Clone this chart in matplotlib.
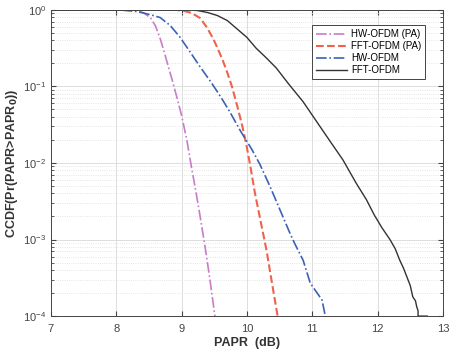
import numpy as np
import matplotlib.pyplot as plt

plt.rcParams['font.family'] = ['Liberation Sans', 'DejaVu Sans']

# curves (x in dB, y as log10 of CCDF)
hw_pa_x = [7, 8.2, 8.32, 8.42, 8.52, 8.6, 8.67, 8.73, 8.79, 8.86, 8.93, 9.0, 9.08, 9.15, 9.22, 9.28, 9.36, 9.43, 9.47, 9.51]
hw_pa_y = [0, 0, -0.01, -0.04, -0.1, -0.21, -0.37, -0.54, -0.72, -0.93, -1.15, -1.38, -1.7, -2.05, -2.38, -2.68, -3.1, -3.5, -3.75, -4.0]

fft_pa_x = [7, 8.9, 9.02, 9.15, 9.28, 9.38, 9.48, 9.56, 9.63, 9.7, 9.77, 9.85, 9.93, 10.0, 10.06, 10.12, 10.2, 10.3, 10.38, 10.43, 10.47]
fft_pa_y = [0, 0, -0.01, -0.04, -0.105, -0.22, -0.37, -0.52, -0.66, -0.82, -1.0, -1.25, -1.52, -1.8, -2.08, -2.38, -2.72, -3.14, -3.55, -3.8, -4.0]

hw_x = [7, 8.05, 8.16, 8.3, 8.41, 8.55, 8.67, 8.82, 8.97, 9.13, 9.28, 9.43, 9.54, 9.63, 9.75, 9.9, 10.08, 10.2, 10.35, 10.45, 10.55, 10.65, 10.73, 10.86, 10.97, 11.06, 11.15, 11.2]
hw_y = [0, 0, -0.01, -0.02, -0.04, -0.07, -0.1, -0.2, -0.35, -0.55, -0.74, -0.92, -1.06, -1.18, -1.35, -1.58, -1.83, -2.02, -2.3, -2.5, -2.7, -2.9, -3.05, -3.27, -3.57, -3.68, -3.79, -4.0]

fft_x = [7, 9.1, 9.25, 9.4, 9.55, 9.7, 9.83, 10.0, 10.14, 10.3, 10.45, 10.65, 10.86, 11.06, 11.26, 11.47, 11.67, 11.83, 11.95, 12.07, 12.19, 12.27, 12.34, 12.4, 12.45, 12.5, 12.54, 12.58, 12.6, 12.62, 12.62, 12.76]
fft_y = [0, 0, -0.01, -0.035, -0.075, -0.14, -0.235, -0.36, -0.5, -0.63, -0.76, -0.98, -1.2, -1.45, -1.7, -1.96, -2.26, -2.48, -2.68, -2.85, -3.0, -3.12, -3.27, -3.38, -3.49, -3.6, -3.75, -3.8, -3.88, -3.93, -4.0, -4.0]

fig = plt.figure(figsize=(4.51, 3.52), dpi=100)
ax = fig.add_axes([0.113, 0.102, 0.869, 0.870])

ax.semilogy(hw_pa_x, 10**np.array(hw_pa_y), '-.', color='#C77DC7', lw=1.2, label='HW-OFDM (PA)')
ax.semilogy(fft_pa_x, 10**np.array(fft_pa_y), '--', color='#F0624D', lw=1.5, label='FFT-OFDM (PA)')
ax.semilogy(hw_x, 10**np.array(hw_y), '-.', color='#3C62B4', lw=1.2, label='HW-OFDM')
ax.semilogy(fft_x, 10**np.array(fft_y), '-', color='#333333', lw=1.0, label='FFT-OFDM')

ax.set_xlim(7, 13)
ax.set_ylim(1e-4, 1)
ax.set_xticks(range(7, 14))
ax.grid(True, which='major', color='#dddddd', lw=0.7)
ax.grid(True, which='minor', color='#dddddd', lw=0.6, ls=':')
ax.tick_params(which='both', direction='in', top=True, right=True, labelsize=8, colors='#444444')
ax.tick_params(axis='x', pad=6)
for s in ax.spines.values():
    s.set_color('#444444')
    s.set_linewidth(0.7)

ax.set_xlabel('PAPR  (dB)', fontsize=9, fontweight='bold', color='#333333', labelpad=2)
ax.set_ylabel('CCDF(Pr(PAPR>PAPR$_\\mathbf{0}$))', fontsize=9, fontweight='bold', color='#333333', labelpad=2)

leg = ax.legend(loc='upper right', bbox_to_anchor=(0.968, 0.965), fontsize=7, fancybox=False,
                framealpha=1, edgecolor='#444444', handlelength=3.2, borderpad=0.4,
                labelspacing=0.2, handletextpad=0.4)
leg.get_frame().set_linewidth(0.7)

fig.savefig('out.png', dpi=100)
